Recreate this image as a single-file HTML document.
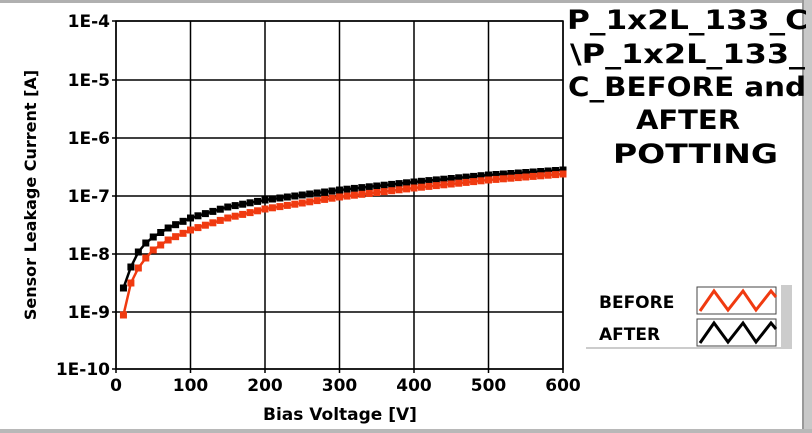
<!DOCTYPE html><html><head><style>
body{margin:0;width:812px;height:433px;background:#fff;overflow:hidden;font-family:"DejaVu Sans","Liberation Sans",sans-serif;}
</style></head><body>
<svg width="812" height="433" xmlns="http://www.w3.org/2000/svg" style="position:absolute;left:0;top:0">
<rect x="0" y="0" width="812" height="3" fill="#b0b0b0"/>
<rect x="802" y="0" width="10" height="433" fill="#c8c8c8"/>
<rect x="802" y="0" width="2" height="433" fill="#999"/>
<rect x="0" y="429" width="812" height="4" fill="#b8b8b8"/>
<g id="grid" stroke="#000" stroke-width="1.5" fill="none"></g>
<rect x="116" y="21" width="447" height="348" fill="none" stroke="#000" stroke-width="1.5"/>
<g id="ylab" font-weight="bold" font-size="17" text-anchor="end"></g>
<g id="xlab" font-weight="bold" font-size="17" text-anchor="middle"></g>
<text x="340" y="420" font-weight="bold" font-size="17" text-anchor="middle">Bias Voltage [V]</text>
<text transform="translate(36,195) rotate(-90)" font-weight="bold" font-size="16" text-anchor="middle">Sensor Leakage Current [A]</text>
<g id="series"></g>
<g font-weight="bold" font-size="27" lengthAdjust="spacingAndGlyphs">
<text x="567" y="29" textLength="241" lengthAdjust="spacingAndGlyphs">P_1x2L_133_C</text>
<text x="570" y="63" textLength="235" lengthAdjust="spacingAndGlyphs">\P_1x2L_133_</text>
<text x="568" y="96" textLength="238" lengthAdjust="spacingAndGlyphs">C_BEFORE and</text>
<text x="636" y="129" textLength="104" lengthAdjust="spacingAndGlyphs">AFTER</text>
<text x="613" y="163" textLength="165" lengthAdjust="spacingAndGlyphs">POTTING</text>
</g>
<rect x="781" y="285" width="11" height="63" fill="#ccc"/>
<rect x="586" y="347" width="206" height="2" fill="#ccc"/>
<text x="599" y="308" font-weight="bold" font-size="17">BEFORE</text>
<text x="599" y="340" font-weight="bold" font-size="17">AFTER</text>
<rect x="697" y="287" width="79" height="27" fill="#fff" stroke="#444"/>
<rect x="697" y="319" width="79" height="27" fill="#fff" stroke="#444"/>
<polyline points="700,311 714,291 728,310 743,291 756,310 771,291 776,297" fill="none" stroke="#f03a10" stroke-width="3"/>
<polyline points="700,343 714,323 728,342 743,323 756,342 771,323 776,329" fill="none" stroke="#000" stroke-width="3"/>
</svg>
<script>
var ns="http://www.w3.org/2000/svg";
function el(p,t,a,txt){var e=document.createElementNS(ns,t);for(var k in a)e.setAttribute(k,a[k]);if(txt)e.textContent=txt;document.getElementById(p).appendChild(e);}
var ys=[21,80,138,196,254,312,369];
for(var i=0;i<7;i++){el('grid','line',{x1:112,x2:563,y1:ys[i],y2:ys[i]});el('ylab','text',{x:110,y:ys[i]+6},'1E-'+(4+i));}
for(var j=0;j<=6;j++){var x=116+j*74.5;el('grid','line',{x1:x,x2:x,y1:21,y2:373});el('xlab','text',{x:x,y:391},String(j*100));}
function interp(t,v){for(var i=0;i<t.length-1;i++){if(v<=t[i+1][0]){var a=t[i],b=t[i+1];return a[1]+(b[1]-a[1])*(v-a[0])/(b[0]-a[0]);}}return t[t.length-1][1];}
var blk=[[10,288],[20,267],[30,252],[40,243],[50,237],[70,228],[100,218],[150,207],[200,200],[300,190],[400,182],[500,175],[600,170]];
var red=[[10,315],[20,283],[30,268],[40,258],[50,250],[70,240],[100,230],[150,218],[200,209],[300,197],[400,188],[500,180],[600,174]];
function draw(t,c){var pts=[];for(var v=10;v<=600;v+=10){var x=116+v*0.745,y=interp(t,v);pts.push(x+','+y);el('series','rect',{x:x-3.5,y:y-3.5,width:7,height:7,fill:c});}
el('series','polyline',{points:pts.join(' '),fill:'none',stroke:c,'stroke-width':2.5});}
draw(blk,'#000');draw(red,'#f03a10');
</script>
</body></html>
